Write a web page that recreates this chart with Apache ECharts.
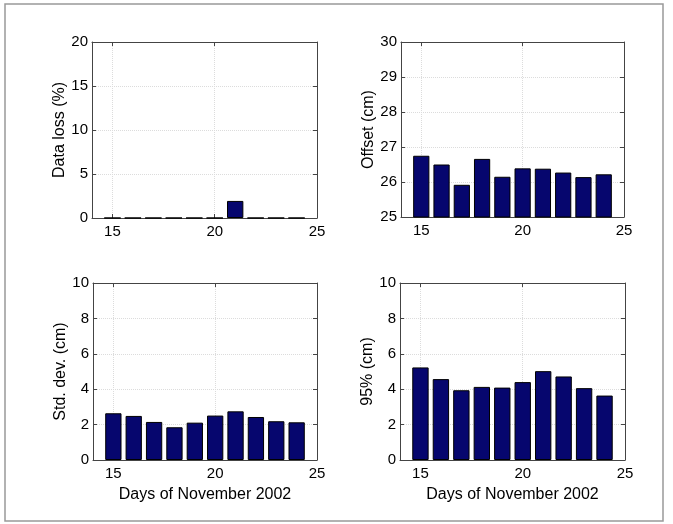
<!DOCTYPE html>
<html><head><meta charset="utf-8">
<script src="https://cdn.jsdelivr.net/npm/echarts@6/dist/echarts.min.js"></script>
<style>html,body{margin:0;padding:0;background:#fff}#c{width:673px;height:524px}</style>
</head><body><div id="c"></div>
<script>
const days = [15, 16, 17, 18, 19, 20, 21, 22, 23, 24];
const dataLoss = [0, 0, 0, 0, 0, 0, 1.94, 0, 0, 0];
const offset = [26.75, 26.50, 25.92, 26.66, 26.15, 26.39, 26.38, 26.27, 26.14, 26.22];
const stdDev = [2.64, 2.49, 2.15, 1.85, 2.11, 2.51, 2.75, 2.43, 2.19, 2.13];
const pct95 = [5.23, 4.57, 3.94, 4.13, 4.09, 4.40, 5.02, 4.72, 4.06, 3.64];
const xTicks = [15, 20, 25];
const panels = [
  {name: 'Data loss (%)', values: dataLoss, ymin: 0, ymax: 20, yint: 5, xname: ''},
  {name: 'Offset (cm)', values: offset, ymin: 25, ymax: 30, yint: 1, xname: ''},
  {name: 'Std. dev. (cm)', values: stdDev, ymin: 0, ymax: 10, yint: 2, xname: 'Days of November 2002'},
  {name: '95% (cm)', values: pct95, ymin: 0, ymax: 10, yint: 2, xname: 'Days of November 2002'}
];
const grids = [
  {left: 92, right: 356, top: 42, height: 176},
  {left: 401, right: 49, top: 42, height: 175},
  {left: 93, right: 356, top: 283, height: 177},
  {left: 400, right: 48, top: 283, height: 177}
];
const font = 'Liberation Sans, Arial, Helvetica, sans-serif';
const axisCol = '#444';
const gridLine = {show: true, lineStyle: {color: '#dcdcdc', type: 'dotted', width: 1}};
const xAxes = [], yAxes = [], series = [];
panels.forEach((p, i) => {
  xAxes.push({
    gridIndex: i, type: 'value', min: 14, max: 25, position: 'bottom',
    axisLine: {show: true, onZero: false, lineStyle: {color: axisCol}},
    axisTick: {show: true, inside: true, length: 4, customValues: xTicks, lineStyle: {color: axisCol}},
    axisLabel: {customValues: xTicks, color: '#000', fontSize: 15, fontFamily: font, margin: 6},
    splitLine: gridLine,
    name: p.xname, nameLocation: 'middle', nameGap: 27,
    nameTextStyle: {color: '#000', fontSize: 16, fontFamily: font}
  });
  xAxes.push({
    gridIndex: i, type: 'value', min: 14, max: 25, position: 'top',
    axisLine: {show: true, onZero: false, lineStyle: {color: axisCol}},
    axisTick: {show: true, inside: true, length: 4, customValues: xTicks, lineStyle: {color: axisCol}},
    axisLabel: {show: false, customValues: xTicks}, splitLine: {show: false}
  });
  yAxes.push({
    gridIndex: i, type: 'value', min: p.ymin, max: p.ymax, interval: p.yint, position: 'left',
    axisLine: {show: true, onZero: false, lineStyle: {color: axisCol}},
    axisTick: {show: true, inside: true, length: 4, lineStyle: {color: axisCol}},
    axisLabel: {color: '#000', fontSize: 15, fontFamily: font, margin: 4},
    splitLine: gridLine,
    name: p.name, nameLocation: 'middle', nameGap: 21, nameRotate: 90,
    nameTextStyle: {color: '#000', fontSize: 16, fontFamily: font}
  });
  yAxes.push({
    gridIndex: i, type: 'value', min: p.ymin, max: p.ymax, interval: p.yint, position: 'right',
    axisLine: {show: true, onZero: false, lineStyle: {color: axisCol}},
    axisTick: {show: true, inside: true, length: 4, lineStyle: {color: axisCol}},
    axisLabel: {show: false}, splitLine: {show: false}
  });
  series.push({
    type: 'bar', xAxisIndex: 2 * i, yAxisIndex: 2 * i,
    data: days.map((d, k) => [d, p.values[k]]),
    barWidth: '80%',
    itemStyle: {color: '#06066e', borderColor: '#000', borderWidth: 1},
    silent: true
  });
});
const chart = echarts.init(document.getElementById('c'), null, {renderer: 'canvas'});
chart.setOption({
  backgroundColor: '#fff',
  animation: false,
  grid: grids.map(g => Object.assign({containLabel: false}, g)),
  xAxis: xAxes, yAxis: yAxes, series: series,
  graphic: [{type: 'rect', shape: {x: 5, y: 4, width: 658, height: 517},
    style: {fill: 'none', stroke: '#999', lineWidth: 1.5}, silent: true}]
});
</script></body></html>
